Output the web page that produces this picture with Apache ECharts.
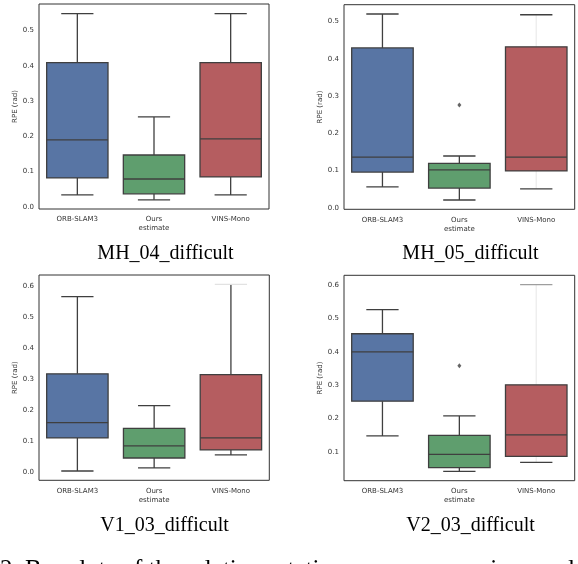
<!DOCTYPE html>
<html><head><meta charset="utf-8">
<script src="https://cdn.jsdelivr.net/npm/echarts@6/dist/echarts.min.js"></script>
<style>html,body{margin:0;padding:0;background:#fff}#c{width:578px;height:564px}</style>
</head><body><div id="c"></div>
<script>
// ---- data ----
const categories = ['ORB-SLAM3', 'Ours', 'VINS-Mono'];
const xAxisName = 'estimate';
const yAxisName = 'RPE (rad)';
const panelTitles = ['MH_04_difficult', 'MH_05_difficult', 'V1_03_difficult', 'V2_03_difficult'];
// each row: [lower whisker, Q1, median, Q3, upper whisker]
const mh04Stats = [[0.034, 0.082, 0.190, 0.409, 0.548], [0.020, 0.037, 0.079, 0.147, 0.255], [0.034, 0.085, 0.193, 0.409, 0.548]];
const mh05Stats = [[0.056, 0.096, 0.136, 0.429, 0.520], [0.021, 0.053, 0.102, 0.119, 0.139], [0.051, 0.099, 0.136, 0.432, 0.518]];
const v103Stats = [[0.003, 0.110, 0.159, 0.317, 0.566], [0.013, 0.045, 0.084, 0.141, 0.214], [0.055, 0.071, 0.110, 0.314, 0.606]];
const v203Stats = [[0.148, 0.252, 0.400, 0.454, 0.526], [0.042, 0.053, 0.093, 0.150, 0.208], [0.069, 0.087, 0.151, 0.301, 0.601]];
const mh04Outliers = [];
const mh05Outliers = [[1, 0.276]];
const v103Outliers = [];
const v203Outliers = [[1, 0.358]];
const yRanges = [[-0.006, 0.575], [-0.004, 0.545], [-0.027, 0.636], [0.014, 0.629]];
const figureCaption = '2. Boxplots of the relative rotation errors comparison and the';

// ---- styles / layout ----
const boxColors = ['#5875a4', '#5f9e6e', '#b55d60'];
const edge = '#3f3f3f';
const lw = 1.3;
const gridRects = [
  {left: 39, top: 4, width: 230, height: 205},
  {left: 344, top: 4.7, width: 230.7, height: 204.6},
  {left: 39, top: 275, width: 230.3, height: 205.3},
  {left: 344, top: 275.3, width: 230.7, height: 205.4}
];
const yNameGaps = [19, 20, 19, 20];
// per panel, per category whisker line colour overrides
const whiskerOverrides = {
  1: {2: {upLine: '#ececec', lowLine: '#ececec'}},
  2: {2: {upCap: '#e2e2e2'}},
  3: {2: {upLine: '#ececec', lowLine: '#ececec', upCap: '#9e9e9e'}}
};
const allStats = [mh04Stats, mh05Stats, v103Stats, v203Stats];
const allOutliers = [mh04Outliers, mh05Outliers, v103Outliers, v203Outliers];

function makeRender(p) {
  return function (params, api) {
    const i = api.value(0);
    const mn = api.value(1), q1 = api.value(2), md = api.value(3), q3 = api.value(4), mx = api.value(5);
    const xc = api.coord([i, md])[0];
    const band = api.size([1, 0])[0];
    const bw = band * 0.8, cw = band * 0.42;
    const y = v => api.coord([i, v])[1];
    const ov = (whiskerOverrides[p] && whiskerOverrides[p][i]) || {};
    const line = (x1, y1, x2, y2, col) => ({type: 'line', shape: {x1, y1, x2, y2}, style: {stroke: col || edge, lineWidth: lw}});
    return {
      type: 'group',
      children: [
        line(xc, y(mn), xc, y(q1), ov.lowLine),
        line(xc, y(q3), xc, y(mx), ov.upLine),
        line(xc - cw / 2, y(mn), xc + cw / 2, y(mn), ov.lowCap),
        line(xc - cw / 2, y(mx), xc + cw / 2, y(mx), ov.upCap),
        {type: 'rect', shape: {x: xc - bw / 2, y: y(q3), width: bw, height: y(q1) - y(q3)},
         style: {fill: boxColors[i], stroke: edge, lineWidth: lw}},
        line(xc - bw / 2, y(md), xc + bw / 2, y(md))
      ]
    };
  };
}

const grids = [], xAxes = [], yAxes = [], series = [];
const font = 'DejaVu Sans';
gridRects.forEach((r, k) => {
  grids.push(Object.assign({show: true, borderColor: '#333', borderWidth: 1, backgroundColor: 'transparent', containLabel: false}, r));
  xAxes.push({
    type: 'category', gridIndex: k, data: categories,
    axisLine: {show: false}, axisTick: {show: false}, splitLine: {show: false},
    axisLabel: {fontSize: 7, color: '#333', margin: 7, fontFamily: font},
    name: xAxisName, nameLocation: 'middle', nameGap: 16,
    nameTextStyle: {fontSize: 7, color: '#333', fontFamily: font}
  });
  yAxes.push({
    type: 'value', gridIndex: k, min: yRanges[k][0], max: yRanges[k][1],
    axisLine: {show: false}, axisTick: {show: false}, splitLine: {show: false},
    axisLabel: {fontSize: 7, color: '#333', margin: 5, fontFamily: font,
      formatter: v => (Math.abs(v * 10 - Math.round(v * 10)) < 1e-6 ? v.toFixed(1) : '')},
    name: yAxisName, nameLocation: 'middle', nameGap: yNameGaps[k],
    nameTextStyle: {fontSize: 7, color: '#333', fontFamily: font}
  });
  series.push({
    type: 'custom', xAxisIndex: k, yAxisIndex: k,
    data: allStats[k].map((s, i) => [i].concat(s)),
    encode: {x: 0, y: [1, 2, 3, 4, 5]},
    renderItem: makeRender(k), silent: true
  });
  if (allOutliers[k].length) {
    series.push({
      type: 'scatter', xAxisIndex: k, yAxisIndex: k,
      data: allOutliers[k], symbol: 'diamond', symbolSize: [4, 5],
      itemStyle: {color: edge}, silent: true
    });
  }
});

const captionPos = [[165.5, 254], [470.5, 254], [164.5, 526], [470.5, 526]];
const graphics = panelTitles.map((t, k) => ({
  type: 'text', x: captionPos[k][0], y: captionPos[k][1],
  style: {text: t, font: '20px "Liberation Serif"', fill: '#000', align: 'center', verticalAlign: 'middle'}
}));
graphics.push({
  type: 'text', x: 0, y: 570,
  style: {text: figureCaption, font: '25px "Liberation Serif"', fill: '#000', align: 'left', verticalAlign: 'middle'}
});

const chart = echarts.init(document.getElementById('c'), null, {renderer: 'canvas'});
chart.setOption({
  animation: false,
  backgroundColor: '#fff',
  grid: grids, xAxis: xAxes, yAxis: yAxes, series: series,
  graphic: graphics
});
</script></body></html>
